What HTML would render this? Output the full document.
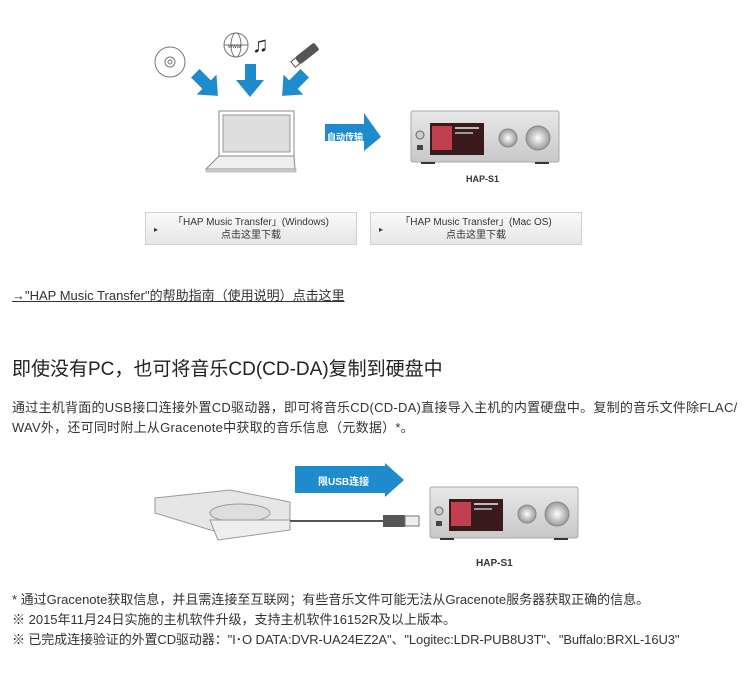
<!DOCTYPE html>
<html><head><meta charset="utf-8"><style>
body{margin:0;width:750px;height:675px;background:#fff;position:relative;overflow:hidden;font-family:"Liberation Sans","Noto Sans CJK SC",sans-serif;color:#222}
.t{position:absolute;white-space:nowrap;font-size:13px;color:#333}
.btn{position:absolute;height:33px;background:linear-gradient(#fafafa,#e6e6e6);border:1px solid #d0d0d0;font-size:10px;color:#333;text-align:center;line-height:13px;box-sizing:border-box;padding-top:3px}
.btn:before{content:"▸";position:absolute;left:8px;top:10px;font-size:8px}
</style></head><body>
<svg width="750" height="675" style="position:absolute;left:0;top:0">
<defs>
<linearGradient id="sil" x1="0" y1="0" x2="0" y2="1"><stop offset="0" stop-color="#e8e8e8"/><stop offset="1" stop-color="#c8c8c8"/></linearGradient>
<radialGradient id="knob"><stop offset="0" stop-color="#fff"/><stop offset="1" stop-color="#999"/></radialGradient>
<g id="dev">
<rect x="0" y="0" width="148" height="51" rx="2" fill="url(#sil)" stroke="#aaa"/>
<rect x="19" y="12" width="54" height="32" fill="#3a1a1a"/>
<rect x="21" y="15" width="20" height="24" fill="#c04050"/>
<rect x="44" y="16" width="24" height="2" fill="#bbb"/><rect x="44" y="21" width="18" height="2" fill="#999"/>
<circle cx="97" cy="27" r="9" fill="url(#knob)" stroke="#888"/>
<circle cx="127" cy="27" r="12" fill="url(#knob)" stroke="#888"/>
<circle cx="9" cy="24" r="4" fill="#ccc" stroke="#666"/>
<rect x="6" y="34" width="6" height="5" fill="#444"/>
<rect x="10" y="51" width="14" height="2" fill="#333"/><rect x="124" y="51" width="14" height="2" fill="#333"/>
</g>
</defs>
<circle cx="170" cy="62" r="15" fill="#fff" stroke="#777"/><circle cx="170" cy="62" r="5" fill="none" stroke="#777"/><circle cx="170" cy="62" r="2" fill="none" stroke="#777"/>
<circle cx="236" cy="45" r="12" fill="#fff" stroke="#777"/><ellipse cx="236" cy="45" rx="5" ry="12" fill="none" stroke="#777"/><line x1="224" y1="45" x2="248" y2="45" stroke="#777"/>
<text x="228" y="48" font-size="6" fill="#333">www</text>
<text x="252" y="52" font-size="22" fill="#222">♫</text>
<g transform="rotate(-38 306 55)"><rect x="296" y="50" width="24" height="9" rx="2" fill="#555"/><rect x="290" y="51" width="6" height="7" fill="#fff" stroke="#555"/></g>
<g fill="#1e8ccc">
<g transform="rotate(-45 208 86)"><polygon points="202,68 214,68 214,84 222,84 208,100 194,84 202,84"/></g>
<polygon points="245,64 256,64 256,80 264,80 250,97 236,80 245,80"/>
<g transform="rotate(45 292 86)"><polygon points="286,68 298,68 298,84 306,84 292,100 278,84 286,84"/></g>
<polygon points="325,124 364,124 364,113 381,137 364,151 364,141 325,141"/>
<polygon points="295,466 385,466 385,463 404,480 385,497 385,493 295,493"/>
</g>
<text x="327" y="140" font-size="9" fill="#fff" font-weight="bold" font-family="Noto Sans CJK SC">自动传输</text>
<text x="318" y="485" font-size="10" fill="#fff" font-weight="bold" font-family="Liberation Sans,Noto Sans CJK SC">限USB连接</text>
<rect x="219" y="111" width="75" height="45" fill="#fff" stroke="#888"/>
<rect x="223" y="115" width="67" height="37" fill="#ddd" stroke="#999"/>
<polygon points="219,156 294,156 295,169 206,169" fill="#eee" stroke="#888"/>
<rect x="206" y="169" width="90" height="3" fill="#ccc" stroke="#999" stroke-width=".5"/>
<use href="#dev" x="411" y="111"/>
<use href="#dev" x="430" y="487"/>
<polygon points="155,498 230,490 290,502 290,520 230,536 155,513" fill="#e6e6e6" stroke="#999"/>
<ellipse cx="240" cy="513" rx="30" ry="9" fill="#ddd" stroke="#999"/>
<polygon points="210,520 290,520 290,530 218,540" fill="#eee" stroke="#999"/>
<line x1="290" y1="521" x2="385" y2="521" stroke="#555" stroke-width="2"/>
<rect x="383" y="515" width="22" height="12" fill="#555"/><rect x="405" y="516" width="14" height="10" fill="#eee" stroke="#777"/>
</svg>
<div class="t" style="left:466px;top:174px;font-size:9px;font-weight:bold">HAP-S1</div>
<div class="t" style="left:476px;top:558px;font-size:10px;font-weight:bold">HAP-S1</div>
<div class="btn" style="left:145px;top:212px;width:212px">「HAP Music Transfer」(Windows)<br>点击这里下载</div>
<div class="btn" style="left:370px;top:212px;width:212px">「HAP Music Transfer」(Mac OS)<br>点击这里下载</div>
<div class="t" style="left:12px;top:285px;text-decoration:underline;color:#333">→"HAP Music Transfer"的帮助指南（使用说明）点击这里</div>
<div class="t" style="left:12px;top:354px;font-size:19px;color:#222">即使没有PC，也可将音乐CD(CD-DA)复制到硬盘中</div>
<div class="t" style="left:12px;top:397px;letter-spacing:.25px">通过主机背面的USB接口连接外置CD驱动器，即可将音乐CD(CD-DA)直接导入主机的内置硬盘中。复制的音乐文件除FLAC/</div>
<div class="t" style="left:12px;top:417px;letter-spacing:.25px">WAV外，还可同时附上从Gracenote中获取的音乐信息（元数据）*。</div>
<div class="t" style="left:12px;top:589px">* 通过Gracenote获取信息，并且需连接至互联网；有些音乐文件可能无法从Gracenote服务器获取正确的信息。</div>
<div class="t" style="left:12px;top:609px">※ 2015年11月24日实施的主机软件升级，支持主机软件16152R及以上版本。</div>
<div class="t" style="left:12px;top:629px;letter-spacing:-.1px">※ 已完成连接验证的外置CD驱动器："I･O DATA:DVR-UA24EZ2A"、"Logitec:LDR-PUB8U3T"、"Buffalo:BRXL-16U3"</div>
</body></html>
